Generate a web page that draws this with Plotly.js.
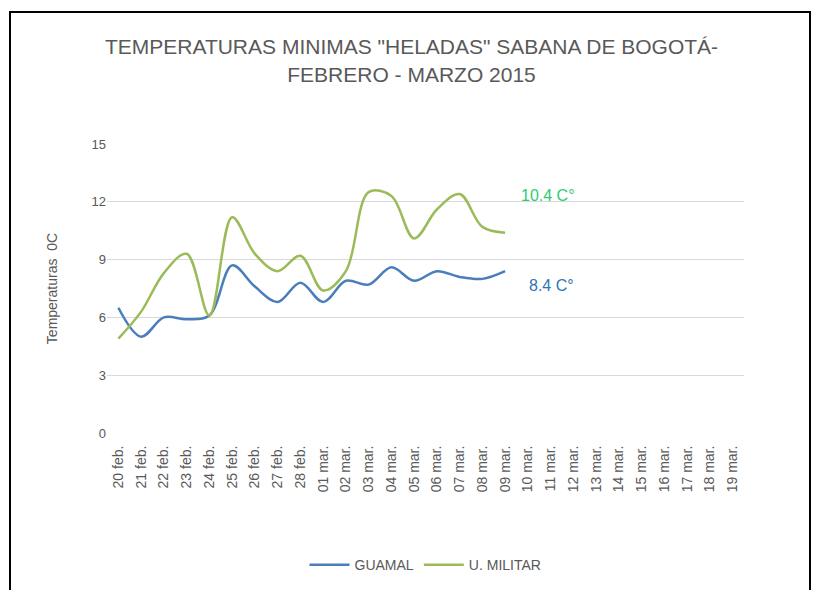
<!DOCTYPE html>
<html>
<head>
<meta charset="utf-8">
<script src="https://cdn.plot.ly/plotly-3.0.1.min.js"></script>
<style>
html,body{margin:0;padding:0;background:#fff;overflow:hidden;}
#frame{position:absolute;left:9px;top:11px;width:802px;height:600px;border:2px solid #000;box-sizing:border-box;pointer-events:none;z-index:5;}
#chart{position:absolute;left:0;top:0;width:823px;height:590px;}
</style>
</head>
<body>
<div id="frame"></div>
<div id="chart"></div>
<script>
const categories = ["20 feb.","21 feb.","22 feb.","23 feb.","24 feb.","25 feb.","26 feb.","27 feb.","28 feb.",
  "01 mar.","02 mar.","03 mar.","04 mar.","05 mar.","06 mar.","07 mar.","08 mar.","09 mar.","10 mar.",
  "11 mar.","12 mar.","13 mar.","14 mar.","15 mar.","16 mar.","17 mar.","18 mar.","19 mar."];
const guamal = [6.5,5.0,6.0,5.9,6.1,8.7,7.6,6.8,7.8,6.8,7.9,7.7,8.6,7.9,8.4,8.1,8.0,8.4];
const uMilitar = [4.9,6.3,8.3,9.3,6.1,11.2,9.3,8.4,9.2,7.4,8.4,12.5,12.3,10.1,11.6,12.4,10.7,10.4];
const seriesNames = ["GUAMAL","U. MILITAR"];
const yTicks = [0,3,6,9,12,15];

const txt = '#595959';
const fam = '"Liberation Sans", Arial, sans-serif';
const traces = [
  {x: categories.slice(0, guamal.length), y: guamal, name: seriesNames[0], type:'scatter', mode:'lines',
   line:{color:'#4a7ebb', width:2.5, shape:'spline', smoothing:1}},
  {x: categories.slice(0, uMilitar.length), y: uMilitar, name: seriesNames[1], type:'scatter', mode:'lines',
   line:{color:'#9bbb59', width:2.5, shape:'spline', smoothing:1}}
];
const layout = {
  width:823, height:590,
  margin:{l:107, r:79, t:144, b:157},
  paper_bgcolor:'rgba(0,0,0,0)', plot_bgcolor:'rgba(0,0,0,0)',
  font:{family:fam, color:txt},
  title:{text:'TEMPERATURAS MINIMAS "HELADAS" SABANA DE BOGOTÁ-<br>FEBRERO - MARZO 2015',
    font:{family:fam, size:21, color:txt},
    x:0.5, xanchor:'center', y:0.908, yanchor:'top', yref:'container'},
  xaxis:{type:'category', categoryorder:'array', categoryarray:categories, tickvals:categories, ticktext:categories,
    range:[-0.5, categories.length-0.5], tickangle:-90, showgrid:false, showline:false, zeroline:false,
    ticks:'outside', ticklen:6, tickcolor:'rgba(0,0,0,0)', tickfont:{family:fam, size:14, color:txt}, fixedrange:true},
  yaxis:{range:[0,15], tickvals:yTicks, showgrid:true, gridcolor:'#d9d9d9', gridwidth:1, zeroline:false,
    showline:false, ticks:'', ticklen:0, tickfont:{family:fam, size:13, color:txt},
    title:{text:'Temperaturas  0C', font:{family:fam, size:14, color:txt}, standoff:30}},
  legend:{orientation:'h', x:0.5, xanchor:'center', y:0.015, yref:'container', yanchor:'bottom',
    font:{family:fam, size:14, color:txt}, itemwidth:40, traceorder:'normal'},
  showlegend:true,
  annotations:[
    {x:18.9, y:12.35, xref:'x', yref:'y', text:'10.4 C°', showarrow:false, font:{family:fam, size:16, color:'#2ecc71'}},
    {x:19.05, y:7.68, xref:'x', yref:'y', text:'8.4 C°', showarrow:false, font:{family:fam, size:16, color:'#2e75b6'}}
  ]
};
Plotly.newPlot('chart', traces, layout, {displayModeBar:false, staticPlot:true});
</script>
</body>
</html>
